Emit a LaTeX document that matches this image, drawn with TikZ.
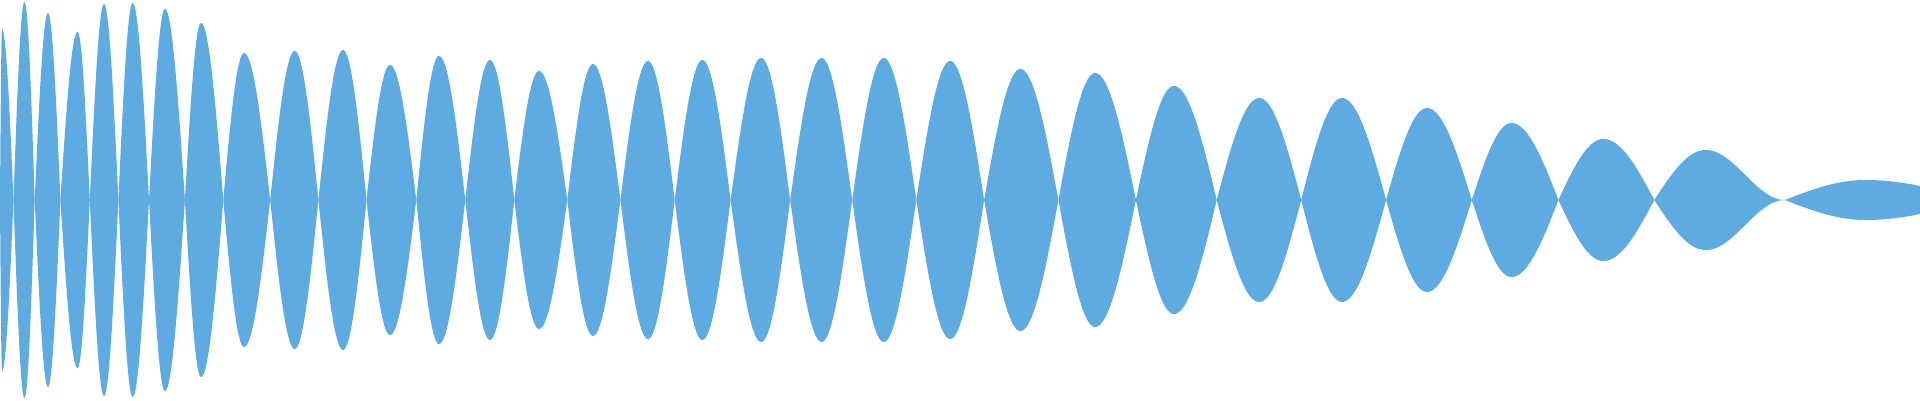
\documentclass[tikz,border=0pt]{standalone}
\definecolor{wavecol}{HTML}{5DABE0}
\tikzset{wave/.style={fill=wavecol}}
\begin{document}
\begin{tikzpicture}[x=1pt,y=1pt]
\useasboundingbox (0,0) rectangle (1920,400);
\clip (0,0) rectangle (1920,400);
\foreach \a/\p/\b/\h in {0/2/13.5/171,13.5/24.5/34.7/198,34.7/48/60.4/187,60.4/77.6/89.8/168,89.8/104/118.4/196,118.4/132.7/149/197,149/165/184.9/191,184.9/201/223.3/177,223.3/244/270.2/147,270.2/294.7/318.4/149,318.4/343/366.5/150,366.5/390/416.3/135,416.3/439/465.3/144,465.3/490/514.3/140,514.3/539/567.3/129,567.3/593/620.4/136,620.4/648/674.7/139,674.7/702.4/730.6/140,730.6/761.2/790.2/142,790.2/821.6/852.2/142,852.2/883.7/916.3/142,916.3/950.2/984.1/139,984.1/1020.4/1058.4/131,1058.4/1095.1/1135.9/127,1135.9/1173.9/1216.7/114,1216.7/1259.2/1301.2/102,1301.2/1342/1386.1/102,1386.1/1427/1471.8/92,1471.8/1511.4/1558.4/77,1558.4/1603.3/1654.3/61}{
  \fill[wave] plot[domain=\a:\p,samples=25] (\x,{200+\h*sin(90*(\x-\a)/(\p-\a))})
    -- plot[domain=\p:\b,samples=25] (\x,{200+\h*cos(90*(\x-\p)/(\b-\p))})
    -- plot[domain=\b:\p,samples=25] (\x,{200-\h*cos(90*(\x-\p)/(\b-\p))})
    -- plot[domain=\p:\a,samples=25] (\x,{200-\h*sin(90*(\x-\a)/(\p-\a))}) -- cycle;
}
% smoother last lobes
\fill[wave] plot[domain=1654.3:1705.7,samples=30] (\x,{200+50*sin(90*(\x-1654.3)/51.4)})
  -- plot[domain=1705.7:1784.9,samples=30] (\x,{200+25*(1+cos(180*(\x-1705.7)/79.2))})
  -- plot[domain=1784.9:1705.7,samples=30] (\x,{200-25*(1+cos(180*(\x-1705.7)/79.2))})
  -- plot[domain=1705.7:1654.3,samples=30] (\x,{200-50*sin(90*(\x-1654.3)/51.4)}) -- cycle;
\fill[wave] plot[domain=1784.9:1865.7,samples=30] (\x,{200+20*sin(90*(\x-1784.9)/80.8)})
  -- plot[domain=1865.7:1920,samples=20] (\x,{200+20*cos(45.6*(\x-1865.7)/54.3)})
  -- plot[domain=1920:1865.7,samples=20] (\x,{200-20*cos(45.6*(\x-1865.7)/54.3)})
  -- plot[domain=1865.7:1784.9,samples=30] (\x,{200-20*sin(90*(\x-1784.9)/80.8)}) -- cycle;
\end{tikzpicture}
\end{document}
